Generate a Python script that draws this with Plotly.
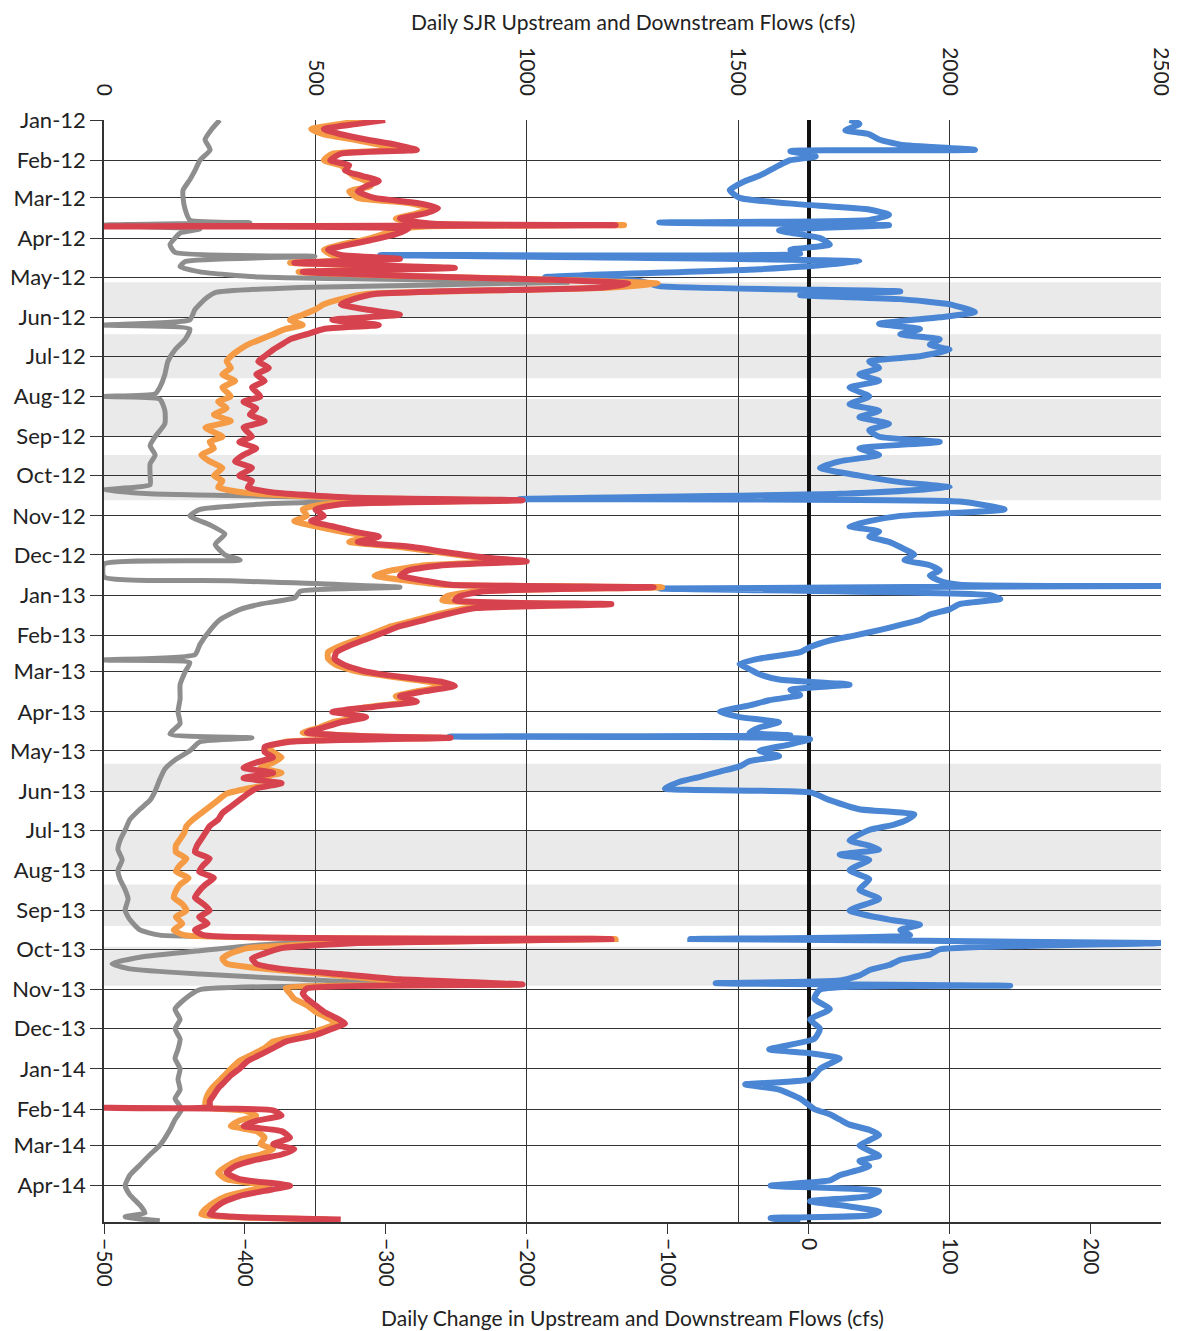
import plotly.graph_objects as go
import pandas as pd

# ---------------- data ----------------
FLOW_DATES = [
    "2012-01-01", "2012-01-04", "2012-01-08", "2012-01-12", "2012-01-16", "2012-01-20", "2012-01-24", "2012-01-27",
    "2012-02-01", "2012-02-05", "2012-02-09", "2012-02-13", "2012-02-17", "2012-02-21", "2012-02-25", "2012-03-01",
    "2012-03-05", "2012-03-09", "2012-03-13", "2012-03-17", "2012-03-21", "2012-03-22", "2012-03-23", "2012-03-25",
    "2012-03-29", "2012-04-02", "2012-04-06", "2012-04-10", "2012-04-14", "2012-04-17", "2012-04-20", "2012-04-24",
    "2012-04-27", "2012-04-30", "2012-05-03", "2012-05-06", "2012-05-09", "2012-05-12", "2012-05-14", "2012-05-18",
    "2012-05-22", "2012-05-26", "2012-05-30", "2012-06-03", "2012-06-07", "2012-06-10", "2012-06-14", "2012-06-18",
    "2012-06-22", "2012-06-26", "2012-07-01", "2012-07-05", "2012-07-10", "2012-07-15", "2012-07-20", "2012-07-25",
    "2012-08-01", "2012-08-05", "2012-08-10", "2012-08-15", "2012-08-20", "2012-08-25", "2012-09-01", "2012-09-05",
    "2012-09-10", "2012-09-15", "2012-09-20", "2012-09-25", "2012-10-01", "2012-10-05", "2012-10-10", "2012-10-14",
    "2012-10-18", "2012-10-20", "2012-10-23", "2012-10-27", "2012-11-01", "2012-11-05", "2012-11-09", "2012-11-13",
    "2012-11-17", "2012-11-21", "2012-11-25", "2012-11-29", "2012-12-03", "2012-12-06", "2012-12-09", "2012-12-13",
    "2012-12-17", "2012-12-21", "2012-12-24", "2012-12-26", "2012-12-29",
    "2013-01-02", "2013-01-05", "2013-01-08", "2013-01-11", "2013-01-15", "2013-01-20", "2013-01-25", "2013-01-30",
    "2013-02-04", "2013-02-09", "2013-02-14", "2013-02-19", "2013-02-24", "2013-03-01", "2013-03-05", "2013-03-09",
    "2013-03-12", "2013-03-16", "2013-03-20", "2013-03-24", "2013-03-28", "2013-04-01", "2013-04-05", "2013-04-09",
    "2013-04-13", "2013-04-17", "2013-04-20", "2013-04-21", "2013-04-24", "2013-04-28", "2013-05-02", "2013-05-06",
    "2013-05-10", "2013-05-14", "2013-05-18", "2013-05-22", "2013-05-26", "2013-05-30", "2013-06-03", "2013-06-08",
    "2013-06-13", "2013-06-18", "2013-06-23", "2013-06-28", "2013-07-03", "2013-07-08", "2013-07-13", "2013-07-18",
    "2013-07-23", "2013-07-28", "2013-08-02", "2013-08-07", "2013-08-12", "2013-08-17", "2013-08-22", "2013-08-27",
    "2013-09-01", "2013-09-06", "2013-09-11", "2013-09-16", "2013-09-20", "2013-09-23", "2013-09-26", "2013-09-30",
    "2013-10-04", "2013-10-08", "2013-10-12", "2013-10-16", "2013-10-20", "2013-10-24", "2013-10-28", "2013-10-31",
    "2013-11-04", "2013-11-08", "2013-11-13", "2013-11-18", "2013-11-23", "2013-11-27", "2013-12-01", "2013-12-06",
    "2013-12-11", "2013-12-16", "2013-12-21", "2013-12-26",
    "2014-01-01", "2014-01-06", "2014-01-11", "2014-01-16", "2014-01-21", "2014-01-26", "2014-01-30", "2014-01-31",
    "2014-02-02", "2014-02-06", "2014-02-10", "2014-02-14", "2014-02-18", "2014-02-23", "2014-02-28", "2014-03-04",
    "2014-03-08", "2014-03-12", "2014-03-17", "2014-03-22", "2014-03-27", "2014-04-01", "2014-04-05", "2014-04-09",
    "2014-04-14", "2014-04-19", "2014-04-23", "2014-04-27",
]

DOWNSTREAM_RED = [
    665, 600, 520, 560, 620, 690, 740, 560,
    535, 580, 570, 610, 650, 620, 600, 640,
    740, 790, 760, 700, 780, 1210, 0, 720,
    690, 640, 580, 530, 560, 700, 450, 830,
    470, 700, 1050, 1240, 1180, 800, 640, 590,
    560, 620, 700, 540, 650, 520, 480, 440,
    420, 400, 380, 365, 390, 360, 380, 350,
    370, 330, 360, 345, 380, 330, 350, 320,
    360, 330, 310, 350, 320, 350, 340, 400,
    600, 990, 560, 500, 520, 490, 540, 590,
    650, 600, 730, 810, 900, 1000, 800, 720,
    700, 760, 820, 1300, 900,
    840, 830, 1200, 880, 820, 760, 700, 660,
    620, 580, 550, 545, 570, 620, 700, 800,
    830, 760, 700, 740, 640, 540, 620, 560,
    520, 480, 650, 820, 440, 380, 380, 400,
    360, 330, 400, 330, 420, 360, 340, 320,
    300, 280, 270, 250, 240, 230, 220, 215,
    250, 235, 225, 260, 240, 225, 215, 235,
    250, 225, 245, 215, 235, 1200, 600, 420,
    380, 350, 360, 420, 560, 700, 990, 480,
    470, 480, 500, 520, 550, 570, 540, 500,
    430, 400, 370, 340,
    320, 300, 285, 270, 260, 250, 250, 0,
    400, 420, 360, 330, 420, 440, 400, 450,
    420, 360, 310, 290, 320, 440, 380, 320,
    280, 260, 250, 560,
]

UPSTREAM_ORANGE = [
    630, 560, 490, 520, 590, 650, 700, 540,
    520, 560, 575, 590, 620, 630, 580, 600,
    720, 770, 740, 690, 760, 1230, 760, 700,
    660, 620, 560, 520, 540, 680, 440, 800,
    460, 690, 1060, 1310, 1200, 820, 620, 560,
    520, 500, 470, 440, 470, 430, 400, 370,
    340, 320, 300, 290, 300, 280, 310, 280,
    300, 270, 290, 260, 300, 240, 280, 250,
    260, 230, 250, 280, 260, 280, 270, 330,
    560, 960, 520, 470, 480, 450, 500, 560,
    620, 580, 700, 790, 880, 960, 760, 680,
    640, 720, 800, 1320, 880,
    810, 800, 1150, 860, 800, 740, 680, 640,
    600, 560, 530, 530, 550, 600, 680, 770,
    810, 740, 690, 720, 630, 560, 600, 540,
    510, 470, 640, 800, 430, 390, 400, 420,
    400, 370, 420, 360, 410, 340, 290, 270,
    250, 230, 210, 195, 190, 180, 170, 170,
    195, 180, 170, 200, 180, 170, 165, 185,
    195, 170, 185, 165, 190, 1210, 560, 340,
    300, 280, 290, 380, 520, 650, 970, 430,
    440, 450, 480, 500, 530, 550, 520, 470,
    400, 380, 350, 320,
    300, 285, 270, 255, 245, 240, 240, 245,
    330, 360, 320, 300, 360, 380, 370, 400,
    370, 320, 290, 270, 290, 390, 340, 290,
    260, 240, 230, 530,
]

GRAY_DATES = [
    "2012-01-01", "2012-01-08", "2012-01-16", "2012-01-24", "2012-02-01", "2012-02-09", "2012-02-16", "2012-02-24",
    "2012-03-01", "2012-03-10", "2012-03-18", "2012-03-20", "2012-03-22", "2012-03-25", "2012-03-28", "2012-04-01",
    "2012-04-06", "2012-04-12", "2012-04-15", "2012-04-19", "2012-04-23", "2012-04-27", "2012-05-01", "2012-05-05",
    "2012-05-09", "2012-05-13", "2012-05-18", "2012-05-26", "2012-06-03", "2012-06-07", "2012-06-10", "2012-06-18",
    "2012-06-26", "2012-07-05", "2012-07-15", "2012-07-25", "2012-07-30", "2012-08-01", "2012-08-03", "2012-08-12",
    "2012-08-22", "2012-09-01", "2012-09-08", "2012-09-15", "2012-09-22", "2012-10-01", "2012-10-08", "2012-10-12",
    "2012-10-15", "2012-10-19", "2012-10-23", "2012-10-27", "2012-11-01", "2012-11-08", "2012-11-15", "2012-11-23",
    "2012-12-01", "2012-12-05", "2012-12-08", "2012-12-18", "2012-12-21", "2012-12-26", "2012-12-29",
    "2013-01-03", "2013-01-08", "2013-01-12", "2013-01-20", "2013-01-28", "2013-02-08", "2013-02-16", "2013-02-20",
    "2013-02-22", "2013-03-01", "2013-03-11", "2013-03-22", "2013-04-01", "2013-04-10", "2013-04-18", "2013-04-21",
    "2013-04-24", "2013-05-01", "2013-05-08", "2013-05-15", "2013-05-23", "2013-06-01", "2013-06-08", "2013-06-15",
    "2013-06-23", "2013-07-01", "2013-07-09", "2013-07-16", "2013-07-24", "2013-08-01", "2013-08-08", "2013-08-16",
    "2013-08-23", "2013-09-01", "2013-09-08", "2013-09-16", "2013-09-20", "2013-09-23", "2013-09-27", "2013-10-02",
    "2013-10-07", "2013-10-12", "2013-10-16", "2013-10-20", "2013-10-24", "2013-10-28", "2013-11-01", "2013-11-08",
    "2013-11-16", "2013-11-24", "2013-12-01", "2013-12-09", "2013-12-17", "2013-12-24",
    "2014-01-01", "2014-01-09", "2014-01-17", "2014-01-24", "2014-02-01", "2014-02-09", "2014-02-17", "2014-03-01",
    "2014-03-08", "2014-03-16", "2014-03-24", "2014-04-01", "2014-04-08", "2014-04-16", "2014-04-22", "2014-04-25",
    "2014-04-28",
]

GRAY_FLOW = [
    274, 255, 239, 251, 227, 215, 203, 187,
    187, 192, 203, 345, 0, 227, 180, 168,
    156, 168, 499, 192, 180, 227, 369, 1095,
    464, 263, 239, 215, 203, 0, 203, 192,
    168, 151, 144, 132, 121, 0, 132, 144,
    144, 121, 109, 121, 109, 109, 109, 0,
    109, 700, 369, 227, 203, 251, 286, 263,
    286, 322, 0, 0, 298, 700, 464,
    452, 369, 322, 274, 251, 227, 215, 0,
    203, 192, 180, 180, 175, 180, 156, 350,
    227, 203, 168, 144, 132, 121, 109, 85,
    61, 50, 38, 33, 43, 33, 38, 50,
    57, 50, 61, 85, 132, 700, 393, 227,
    85, 19, 61, 227, 464, 700, 227, 192,
    168, 180, 168, 180, 175, 168,
    180, 175, 180, 168, 184, 168, 156, 132,
    109, 85, 61, 50, 61, 85, 97, 50,
    132,
]

BLUE_DATES = [
    "2012-01-01", "2012-01-04", "2012-01-09", "2012-01-12", "2012-01-16", "2012-01-20", "2012-01-24", "2012-01-25",
    "2012-01-29", "2012-02-01", "2012-02-05", "2012-02-09", "2012-02-13", "2012-02-17", "2012-02-24", "2012-03-01",
    "2012-03-06", "2012-03-10", "2012-03-14", "2012-03-18", "2012-03-20", "2012-03-22", "2012-03-26", "2012-04-01",
    "2012-04-06", "2012-04-10", "2012-04-13", "2012-04-14", "2012-04-19", "2012-04-25", "2012-05-01", "2012-05-04",
    "2012-05-08", "2012-05-12", "2012-05-15", "2012-05-18", "2012-05-22", "2012-05-28", "2012-06-01", "2012-06-06",
    "2012-06-10", "2012-06-14", "2012-06-18", "2012-06-22", "2012-06-26", "2012-07-01", "2012-07-05", "2012-07-10",
    "2012-07-15", "2012-07-20", "2012-07-25", "2012-08-01", "2012-08-07", "2012-08-12", "2012-08-17", "2012-08-22",
    "2012-08-27", "2012-09-01", "2012-09-05", "2012-09-10", "2012-09-15", "2012-09-20", "2012-09-25", "2012-10-01",
    "2012-10-06", "2012-10-10", "2012-10-15", "2012-10-19", "2012-10-21", "2012-10-27", "2012-11-01", "2012-11-05",
    "2012-11-09", "2012-11-13", "2012-11-17", "2012-11-21", "2012-11-25", "2012-12-01", "2012-12-05", "2012-12-09",
    "2012-12-13", "2012-12-17", "2012-12-21", "2012-12-24", "2012-12-25", "2012-12-27",
    "2013-01-01", "2013-01-04", "2013-01-08", "2013-01-12", "2013-01-16", "2013-01-20", "2013-01-24", "2013-01-28",
    "2013-02-01", "2013-02-05", "2013-02-10", "2013-02-14", "2013-02-19", "2013-02-23", "2013-02-27", "2013-03-03",
    "2013-03-07", "2013-03-11", "2013-03-15", "2013-03-19", "2013-03-23", "2013-03-27", "2013-04-01", "2013-04-05",
    "2013-04-09", "2013-04-13", "2013-04-17", "2013-04-19", "2013-04-20", "2013-04-22", "2013-04-26", "2013-05-01",
    "2013-05-05", "2013-05-09", "2013-05-13", "2013-05-17", "2013-05-21", "2013-05-25", "2013-05-30", "2013-06-02",
    "2013-06-08", "2013-06-15", "2013-06-19", "2013-06-23", "2013-06-27", "2013-07-01", "2013-07-09", "2013-07-13",
    "2013-07-16", "2013-07-20", "2013-07-24", "2013-08-01", "2013-08-08", "2013-08-16", "2013-08-23", "2013-09-01",
    "2013-09-08", "2013-09-12", "2013-09-16", "2013-09-20", "2013-09-23", "2013-09-26", "2013-10-01", "2013-10-05",
    "2013-10-09", "2013-10-13", "2013-10-17", "2013-10-21", "2013-10-25", "2013-10-27", "2013-10-29", "2013-11-01",
    "2013-11-08", "2013-11-16", "2013-11-24", "2013-12-01", "2013-12-09", "2013-12-17", "2013-12-20", "2013-12-24",
    "2013-12-28",
    "2014-01-01", "2014-01-09", "2014-01-13", "2014-01-17", "2014-01-24", "2014-02-01", "2014-02-05", "2014-02-09",
    "2014-02-13", "2014-02-17", "2014-02-21", "2014-02-25", "2014-03-01", "2014-03-05", "2014-03-09", "2014-03-13",
    "2014-03-17", "2014-03-24", "2014-03-28", "2014-04-01", "2014-04-05", "2014-04-09", "2014-04-13", "2014-04-17",
    "2014-04-21", "2014-04-24", "2014-04-26", "2014-04-29",
]

BLUE_CHANGE = [
    29, 36, 26, 43, 50, 65, 118, -13,
    5, -13, -21, -28, -35, -45, -56, -49,
    -6, 43, 57, 43, -106, 57, -21, 8,
    15, -13, -6, -304, 36, -35, -187, -120,
    -106, 65, -6, 65, 100, 118, 93, 50,
    79, 65, 93, 86, 100, 79, 43, 50,
    36, 50, 29, 43, 29, 50, 36, 57,
    43, 50, 93, 36, 50, 22, 8, 36,
    65, 100, 22, -205, 107, 139, 65, 43,
    29, 50, 43, 57, 65, 75, 68, 86,
    93, 86, 93, 107, 250, -106,
    128, 136, 107, 100, 86, 79, 65, 50,
    33, 15, 1, -6, -35, -49, -42, -35,
    -21, 29, -13, -6, -28, -42, -63, -49,
    -21, -35, -42, -13, -255, 1, -13, -35,
    -21, -42, -49, -63, -77, -92, -102, 1,
    15, 36, 75, 70, 60, 43, 29, 43,
    50, 22, 43, 29, 43, 36, 50, 29,
    57, 79, 65, 72, -84, 250, 93, 86,
    65, 57, 43, 36, 22, -66, 143, 8,
    4, 15, 1, 8, 4, -28, 1, 22,
    15,
    8, 1, -45, -21, -6, 4, 15, 22,
    29, 43, 50, 43, 36, 43, 50, 36,
    43, 22, 15, -27, 50, 43, 1, 29,
    50, 43, -27, -6,
]

# shaded (hatched) periods in the scan
BAND_STARTS = ["2012-05-05", "2012-06-14", "2012-08-03", "2012-09-15",
               "2013-05-11", "2013-07-01", "2013-08-12", "2013-09-29"]
BAND_ENDS = ["2012-06-01", "2012-07-18", "2012-09-01", "2012-10-20",
             "2013-06-01", "2013-08-01", "2013-09-13", "2013-10-29"]

MONTH_TICKS = pd.date_range("2012-01-01", "2014-04-01", freq="MS")
MONTH_LABELS = [d.strftime("%b-%y") for d in MONTH_TICKS]

FLOW_TICKS = [0, 500, 1000, 1500, 2000, 2500]
CHANGE_TICKS = [-500, -400, -300, -200, -100, 0, 100, 200]

# ---------------- figure ----------------
FONT = "Lato, 'Open Sans', sans-serif"
SMOOTH = 0.5
fig = go.Figure()

fig.add_trace(go.Scatter(x=GRAY_FLOW, y=GRAY_DATES, xaxis="x2", yaxis="y", mode="lines",
                         line=dict(color="#8e8e8e", width=5, shape="spline", smoothing=SMOOTH), name="Flow"))
fig.add_trace(go.Scatter(x=UPSTREAM_ORANGE, y=FLOW_DATES, xaxis="x2", yaxis="y", mode="lines",
                         line=dict(color="#F59A45", width=6, shape="spline", smoothing=SMOOTH), name="Upstream"))
fig.add_trace(go.Scatter(x=DOWNSTREAM_RED, y=FLOW_DATES, xaxis="x2", yaxis="y", mode="lines",
                         line=dict(color="#D6434F", width=6, shape="spline", smoothing=SMOOTH), name="Downstream"))
fig.add_trace(go.Scatter(x=BLUE_CHANGE, y=BLUE_DATES, xaxis="x", yaxis="y", mode="lines",
                         line=dict(color="#4A86D3", width=6, shape="spline", smoothing=SMOOTH), name="Daily change"))

for s, e in zip(BAND_STARTS, BAND_ENDS):
    fig.add_shape(type="rect", xref="paper", yref="y", x0=0, x1=1, y0=s, y1=e,
                  fillcolor="rgba(150,150,150,0.20)", line=dict(width=0), layer="below")

# the page body adds an 8 px margin, so the figure is sized/margined to compensate
fig.update_layout(
    width=1169, height=1323,
    margin=dict(l=96, r=16, t=112, b=109),
    paper_bgcolor="white", plot_bgcolor="white",
    showlegend=False,
    font=dict(family=FONT, size=21, color="#222"),
    xaxis=dict(range=[-500, 250], tickvals=CHANGE_TICKS, tickangle=90, automargin=False,
               showgrid=False, zeroline=True, zerolinecolor="#111", zerolinewidth=4,
               ticks="outside", ticklen=10, tickcolor="#333",
               showline=True, linecolor="#333", linewidth=1.5,
               tickfont=dict(size=21, family=FONT, color="#222")),
    xaxis2=dict(range=[0, 2500], tickvals=FLOW_TICKS, tickangle=90, overlaying="x", side="top",
                automargin=False,
                showgrid=True, gridcolor="#333", gridwidth=1.2, zeroline=False,
                ticks="", ticklabelstandoff=20,
                tickfont=dict(size=21, family=FONT, color="#222")),
    yaxis=dict(type="date", range=["2014-04-29", "2012-01-01"], automargin=False,
               tickvals=MONTH_TICKS, ticktext=MONTH_LABELS,
               showgrid=True, gridcolor="#333", gridwidth=1.2,
               ticks="outside", ticklen=12, tickcolor="#333",
               showline=True, linecolor="#333", linewidth=1.5, mirror=False,
               tickfont=dict(size=22, family=FONT, color="#222")),
)

fig.add_annotation(text="Daily SJR Upstream and Downstream Flows (cfs)", xref="paper", yref="paper",
                   x=0.5, y=1.089, yanchor="middle", showarrow=False,
                   font=dict(size=21, family=FONT, color="#222"))
fig.add_annotation(text="Daily Change in Upstream and Downstream Flows (cfs)", xref="paper", yref="paper",
                   x=0.5, y=-0.087, yanchor="middle", showarrow=False,
                   font=dict(size=21, family=FONT, color="#222"))

fig.write_html("out.html")
